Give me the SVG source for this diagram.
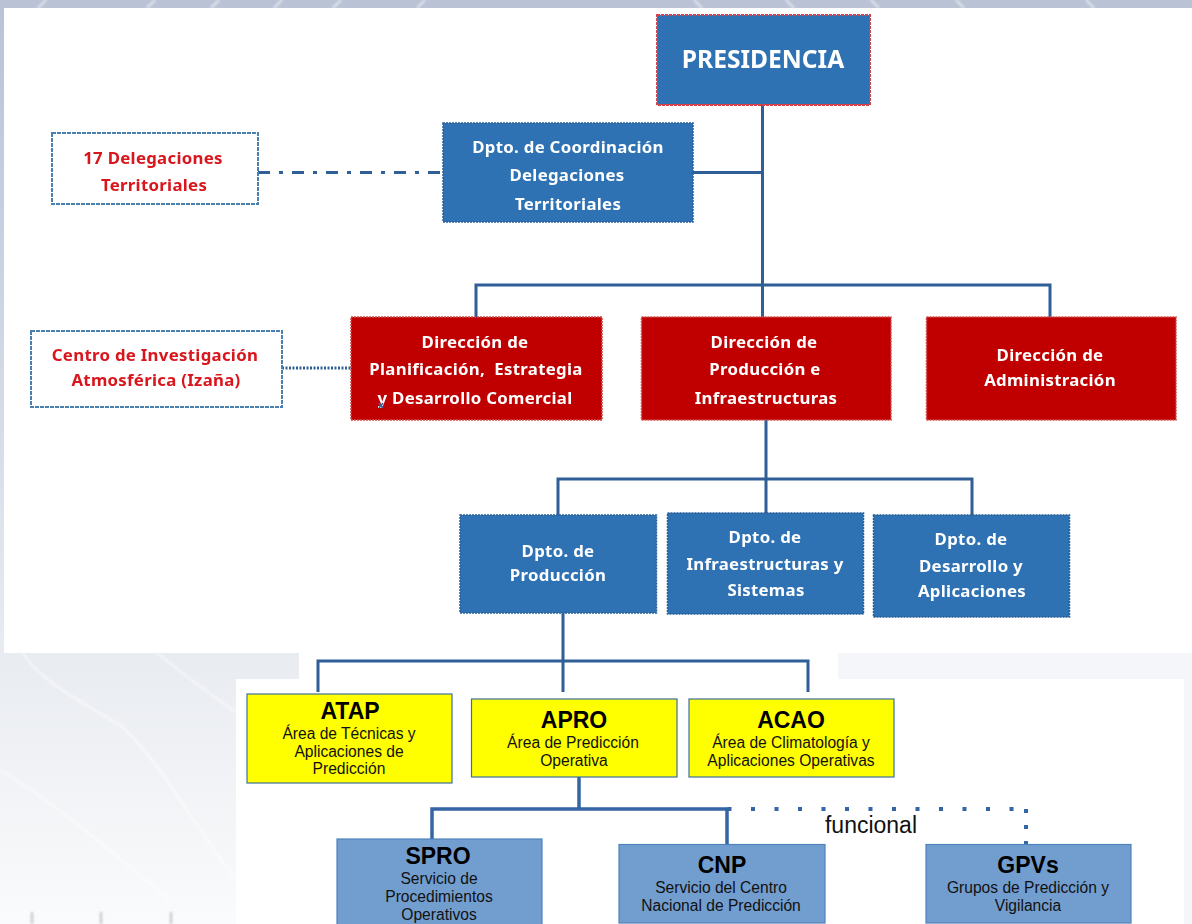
<svg xmlns="http://www.w3.org/2000/svg" width="1192" height="924" viewBox="0 0 1192 924">
<style>
.blue{fill:#2e72b4;stroke:#2a5f96;stroke-width:1.5;stroke-dasharray:2 1}
.pres{fill:#2e72b4;stroke:#d8404a;stroke-width:2;stroke-dasharray:3 1}
.red{fill:#c00000;stroke:#d04a4a;stroke-width:1.5;stroke-dasharray:2 1}
.wh{fill:#fff;stroke:#4a80b0;stroke-width:2;stroke-dasharray:4 1}
.yel{fill:#ff0;stroke:#3f6f9f;stroke-width:1.2}
.lb{fill:#729dcf;stroke:#4f81bd;stroke-width:1.2}
.t{font-family:"Noto Sans","DejaVu Sans",sans-serif;font-weight:700;text-anchor:middle;font-size:16.8px;letter-spacing:.3px;filter:url(#soft)}
.tw{fill:#fff}.tr{fill:#d9141c}
.h{font-family:"Liberation Sans",Arial,sans-serif;font-weight:700;text-anchor:middle;font-size:23px;fill:#000}
.s{font-family:"Liberation Sans",Arial,sans-serif;text-anchor:middle;font-size:15.6px;fill:#111}
.c{fill:none;stroke:#2f5f96;stroke-width:3}
.c2{fill:none;stroke:#3465a4;stroke-width:3.5}
.d{fill:none;stroke:#3465a4;stroke-width:4}
</style>
<defs>
<linearGradient id="bg" x1="0" y1="0" x2="0" y2="1">
<stop offset="0" stop-color="#bac3d5"/><stop offset=".35" stop-color="#cdd6e5"/><stop offset=".7" stop-color="#e8ebf0"/><stop offset="1" stop-color="#fafbfc"/>
</linearGradient>
<filter id="soft" x="-5%" y="-20%" width="110%" height="140%"><feGaussianBlur stdDeviation="0.4"/></filter>
<filter id="soft2" x="-5%" y="-5%" width="110%" height="110%"><feGaussianBlur stdDeviation="0.9"/></filter>
</defs>
<rect id="background" width="1192" height="924" fill="url(#bg)"/>
<rect x="838" y="653" width="354" height="271" fill="#f5f6f9"/>
<g id="streaks" fill="none" stroke="#fff" stroke-opacity=".6" stroke-width="2" filter="url(#soft2)">
<path d="M23 653C40 680 70 695 120 725C160 760 190 820 236 880"/><path d="M157 653C185 675 210 695 236 712"/><path d="M0 770C50 800 110 850 170 900"/>
<path d="M46 0L38 8M155 0L147 8M219 0L211 8M282 0L274 8M341 0L333 8M425 0L417 8M694 0L702 8M786 0L794 8M871 0L879 8M956 0L964 8M1086 0L1094 8"/>
</g>
<g id="ticks" stroke="#c8ccd2" stroke-width="2.500" filter="url(#soft2)"><path d="M32 912V924M101 912V924M171 912V924"/></g>
<rect x="4" y="8" width="1188" height="645" fill="#fff"/>
<rect x="299" y="653" width="539" height="26" fill="#fff"/>
<rect x="236" y="679" width="948" height="245" fill="#fff"/>

<g id="connectors">
<path class="c" d="M762.500 105V317M693 172.500H762.500M476 317V285H1050V317"/>
<path class="c" stroke-dasharray="12 9 4 9" d="M258 172.500H443"/>
<path class="c" stroke-dasharray="2 1.500" d="M282 368H351"/>
<path class="c" d="M766 420V515M558 515V479H972V515"/>
<path class="c" d="M563 613V692M318 692V661H808V692"/>
<path class="c2" d="M579 777V809M432 839V809H727V844"/>
<path class="d" stroke-dasharray="4 19.500" d="M727.500 809H1014"/>
<path class="d" stroke-dasharray="4 12" d="M1026 809V844"/>
</g>

<g id="presidencia"><rect class="pres" x="657" y="15" width="213" height="90"/><text class="t tw" x="763" y="68" style="font-size:24.600px;letter-spacing:0">PRESIDENCIA</text></g>
<g id="coordinacion"><rect class="blue" x="443" y="123" width="250" height="99"/>
<text class="t tw" x="568" y="153">Dpto. de Coordinación</text><text class="t tw" x="567" y="181">Delegaciones</text><text class="t tw" x="568" y="210">Territoriales</text></g>
<g id="delegaciones"><rect class="wh" x="52" y="133" width="206" height="71"/>
<text class="t tr" x="153" y="164">17 Delegaciones</text><text class="t tr" x="154" y="191">Territoriales</text></g>
<g id="centro"><rect class="wh" x="31" y="331" width="251" height="76"/>
<text class="t tr" x="155" y="361">Centro de Investigación</text><text class="t tr" x="156" y="386">Atmosférica (Izaña)</text></g>
<g id="dir-planificacion"><rect class="red" x="351" y="317" width="251" height="103"/>
<text class="t tw" x="475" y="348">Dirección de</text><text class="t tw" x="476" y="375">Planificación,&#160; Estrategia</text><text class="t tw" x="475" y="404">y Desarrollo Comercial</text>
<path d="M379 403l4 5m0-5l-4 5" stroke="#3a5f9a" stroke-width="1.500"/></g>
<g id="dir-produccion"><rect class="red" x="641.500" y="317" width="249.500" height="103"/>
<text class="t tw" x="764" y="348">Dirección de</text><text class="t tw" x="765" y="375">Producción e</text><text class="t tw" x="766" y="404">Infraestructuras</text></g>
<g id="dir-administracion"><rect class="red" x="926.500" y="317" width="249.500" height="103"/>
<text class="t tw" x="1050" y="361">Dirección de</text><text class="t tw" x="1050" y="386">Administración</text></g>
<g id="dpto-produccion"><rect class="blue" x="460" y="515" width="196.500" height="98"/>
<text class="t tw" x="558" y="557">Dpto. de</text><text class="t tw" x="558" y="581">Producción</text></g>
<g id="dpto-infra"><rect class="blue" x="667.500" y="513" width="196" height="101"/>
<text class="t tw" x="765" y="543">Dpto. de</text><text class="t tw" x="765" y="570">Infraestructuras y</text><text class="t tw" x="766" y="596">Sistemas</text></g>
<g id="dpto-desarrollo"><rect class="blue" x="873.500" y="515" width="196" height="102"/>
<text class="t tw" x="971" y="545">Dpto. de</text><text class="t tw" x="971" y="572">Desarrollo y</text><text class="t tw" x="972" y="597">Aplicaciones</text></g>

<g id="atap"><rect class="yel" x="247" y="694" width="205" height="89"/><text class="h" x="350" y="719">ATAP</text>
<text class="s" x="349" y="739">Área de Técnicas y</text><text class="s" x="349" y="757">Aplicaciones de</text><text class="s" x="349" y="774">Predicción</text></g>
<g id="apro"><rect class="yel" x="471.500" y="699" width="205.500" height="78"/><text class="h" x="574" y="728">APRO</text>
<text class="s" x="573" y="748">Área de Predicción</text><text class="s" x="574" y="766">Operativa</text></g>
<g id="acao"><rect class="yel" x="689" y="699" width="205" height="78"/><text class="h" x="791" y="728">ACAO</text>
<text class="s" x="791" y="748">Área de Climatología y</text><text class="s" x="791" y="766">Aplicaciones Operativas</text></g>
<g id="spro"><rect class="lb" x="337" y="839" width="205" height="90"/><text class="h" x="438" y="864">SPRO</text>
<text class="s" x="439" y="884">Servicio de</text><text class="s" x="439" y="902">Procedimientos</text><text class="s" x="439" y="920">Operativos</text></g>
<g id="cnp"><rect class="lb" x="619" y="844.500" width="206" height="78.500"/><text class="h" x="722" y="873">CNP</text>
<text class="s" x="721" y="893">Servicio del Centro</text><text class="s" x="721" y="911">Nacional de Predicción</text></g>
<g id="gpvs"><rect class="lb" x="926" y="844.500" width="205" height="78.500"/><text class="h" x="1028" y="873">GPVs</text>
<text class="s" x="1028" y="893">Grupos de Predicción y</text><text class="s" x="1028" y="911">Vigilancia</text></g>
<text id="funcional" x="871" y="833" font-family="'Liberation Sans',Arial,sans-serif" font-size="23" text-anchor="middle" fill="#111">funcional</text>
</svg>
